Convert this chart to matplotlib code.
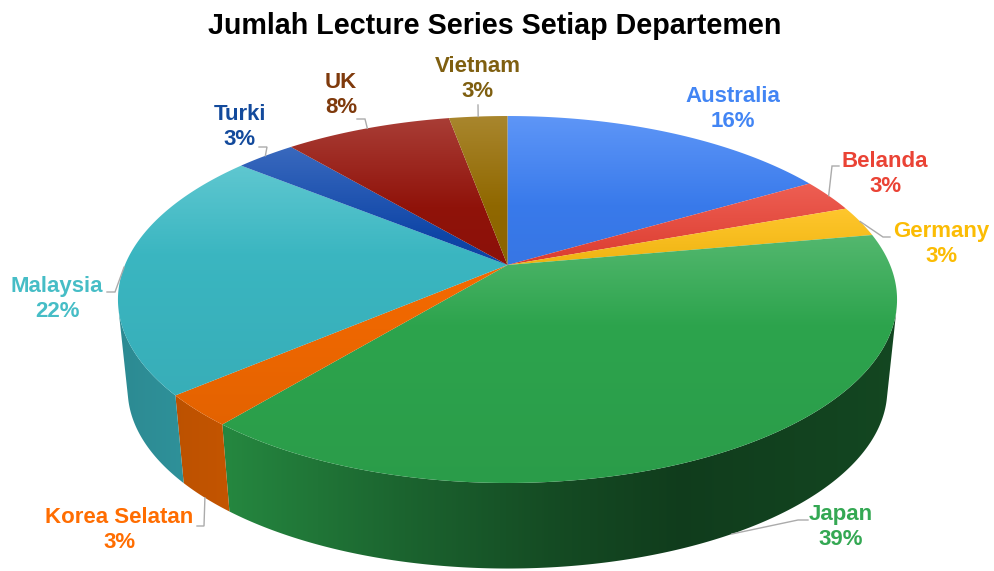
import numpy as np
import matplotlib
matplotlib.use('Agg')
import matplotlib.pyplot as plt
from matplotlib.colors import to_rgb
from matplotlib.patches import Polygon

plt.rcParams['font.family'] = ['Liberation Sans', 'DejaVu Sans']

title = 'Jumlah Lecture Series Setiap Departemen'
names = ['Australia', 'Belanda', 'Germany', 'Japan', 'Korea Selatan', 'Malaysia', 'Turki', 'UK', 'Vietnam']
shares = [16.6, 2.9, 2.7, 38.8, 2.8, 22.0, 3.0, 8.3, 2.9]
shown = ['16%', '3%', '3%', '39%', '3%', '22%', '3%', '8%', '3%']
face_colors = ['#3B7FF5', '#EA3C2E', '#FFBB00', '#2EA84F', '#F56A00', '#3CBBC6', '#0F49B0', '#96130A', '#966C00']
text_colors = ['#4285F4', '#EA4335', '#FBBC04', '#34A853', '#FF6D01', '#46BDC6', '#134A9C', '#7F3A0C', '#7F5F10']
label_xy = [(733, 109), (885, 174), (941, 244), (841, 527), (119, 530), (57, 299), (240, 127), (341, 95), (478, 79)]
# 引线的折点 (elbow, end), 第一个点从饼边算
leader_xy = [None, [(832, 166), (839, 166)], [(883, 237), (890, 237)], [(798, 520), (808, 520)],
             [(204, 526), (197, 526)], [(115, 292), (107, 292)], [(267, 147), (259, 147)],
             [(365, 119), (357, 119)], [(478, 105)]]

# 透视参数：单位圆 -> 屏幕
CX, CY = 507.5, 265
A, B, K = 382.6, 177, 0.188
DEPTH, SHRINK = 91, 0.975


def project(theta, bottom=False):
    u, v = np.sin(theta), np.cos(theta)
    x = A * u / (1 + K * v)
    y = -B * v / (1 + K * v)
    if bottom:
        return CX + SHRINK * x, CY + DEPTH + SHRINK * y
    return CX + x, CY + y


def facing_front(th):
    # 侧面朝外的那段才看得见
    xt, yt = project(th)
    xb, yb = project(th, True)
    dx, dy = np.gradient(xt), np.gradient(yt)
    return dx * (yb - yt) - dy * (xb - xt) < 0


def side_shade(x):
    return np.interp(x, [120, 230, 400, 550, 680, 890], [0.74, 0.80, 0.60, 0.45, 0.36, 0.42])


def top_gradient(y0, y1):
    # 每块自己的渐变：上面发白，下面略暗；从圆心开始的那块不发白
    ys = np.linspace(y0, y1, 256)
    white = 0.18 * np.clip(1 - (ys - y0) / 90, 0, 1) * np.clip((CY - y0) / 20, 0, 1)
    dark = 1 - 0.07 * (ys - y0) / max(y1 - y0, 1)
    return white, dark


fig = plt.figure(figsize=(9.95, 5.71), dpi=100)
ax = fig.add_axes([0, 0, 1, 1])
ax.set_xlim(0, 995)
ax.set_ylim(571, 0)
ax.axis('off')

edges = np.cumsum([0] + shares) / sum(shares) * 2 * np.pi
mids = (edges[:-1] + edges[1:]) / 2

# 侧面：每块一张横向渐变图，裁成侧面的形状
for i in range(len(shares)):
    th = np.linspace(edges[i], edges[i + 1], 400)
    th = th[facing_front(th)]
    if len(th) < 2:
        continue
    xt, yt = project(th)
    xb, yb = project(th, True)
    px = np.r_[xt, xb[::-1]]
    py = np.r_[yt, yb[::-1]]
    xs = np.linspace(px.min(), px.max(), 400)
    img = np.array(to_rgb(face_colors[i]))[None, None, :] * side_shade(xs)[None, :, None]
    im = ax.imshow(img, extent=(px.min() - 1, px.max() + 1, py.max() + 1, py.min() - 1), aspect='auto', zorder=1,
                   interpolation='bilinear')
    im.set_clip_path(Polygon(np.c_[px, py], closed=True, transform=ax.transData))

# 顶面
for i in range(len(shares)):
    th = np.linspace(edges[i], edges[i + 1], 200)
    x, y = project(th)
    px = np.r_[CX, x]
    py = np.r_[CY, y]
    y0, y1 = py.min(), py.max()
    white, dark = top_gradient(y0, y1)
    base = np.array(to_rgb(face_colors[i]))
    rows = base[None, :] * dark[:, None]
    rows = rows + (1 - rows) * white[:, None]
    img = rows[:, None, :]
    # 范围放大一点，不然两块之间有白缝
    im = ax.imshow(img, extent=(px.min() - 2, px.max() + 2, y1 + 1, y0 - 1), aspect='auto', zorder=3,
                   interpolation='bilinear')
    im.set_clip_path(Polygon(np.c_[px, py], closed=True, transform=ax.transData))
ax.set_xlim(0, 995)
ax.set_ylim(571, 0)

# 引线
for i, pts in enumerate(leader_xy):
    if pts is None:
        continue
    front = np.cos(mids[i]) < -0.3
    sx, sy = project(mids[i], front)
    lx = [sx] + [p[0] for p in pts]
    ly = [sy] + [p[1] for p in pts]
    ax.plot(lx, ly, color='#ABABAB', lw=1.0, zorder=4, solid_joinstyle='miter')

for i, name in enumerate(names):
    ax.text(label_xy[i][0], label_xy[i][1], name + '\n' + shown[i], color=text_colors[i], fontsize=16,
            fontweight='bold', ha='center', va='center', linespacing=1.2, zorder=5)

ax.text(495, 26, title, fontsize=20.6, fontweight='bold', color='black', ha='center', va='center')

fig.savefig('out.png', dpi=100)
